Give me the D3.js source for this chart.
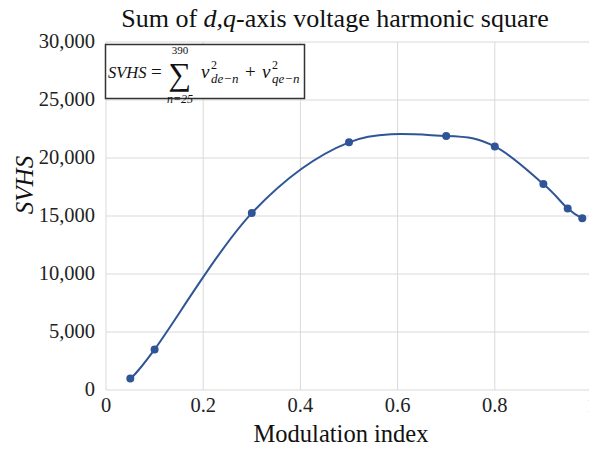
<!DOCTYPE html>
<html lang="en">
<head>
  <meta charset="UTF-8">
  <title>Sum of d,q-axis voltage harmonic square</title>
  <script src="https://d3js.org/d3.v7.min.js"></script>
  <style>
    body { margin: 0; padding: 0; background: #fff; }
    svg { display: block; }
    svg text { font-family: "Liberation Serif", "Times New Roman", "DejaVu Serif", serif; }
    .grid line { stroke: #d9d9d9; stroke-width: 1; }
    .tick-label { font-size: 20.5px; fill: #222; }
  </style>
</head>
<body>
  <div id="chart"></div>

  <script>
    // data
    const modIndex = [0.05, 0.1, 0.3, 0.5, 0.7, 0.8, 0.9, 0.95, 0.98];
    const svhs = [1000, 3500, 15250, 21350, 21900, 21000, 17750, 15650, 14800];
    const xTicks = [0, 0.2, 0.4, 0.6, 0.8, 1];
    const yTicks = [0, 5000, 10000, 15000, 20000, 25000, 30000];

    const width = 589, height = 452;
    const plotLeft = 106, plotRight = 592, plotTop = 42, plotBottom = 390;

    const svg = d3.select("#chart").append("svg")
      .attr("width", width)
      .attr("height", height)
      .attr("font-family", "Liberation Serif");

    const x = d3.scaleLinear().domain([0, 1]).range([plotLeft, plotRight]);
    const y = d3.scaleLinear().domain([0, 30000]).range([plotBottom, plotTop]);

    // gridlines
    const grid = svg.append("g").attr("class", "grid");
    grid.selectAll(".h").data(yTicks).enter().append("line")
      .attr("x1", plotLeft).attr("x2", plotRight)
      .attr("y1", d => y(d)).attr("y2", d => y(d));
    grid.selectAll(".v").data(xTicks).enter().append("line")
      .attr("x1", d => x(d)).attr("x2", d => x(d))
      .attr("y1", plotTop).attr("y2", plotBottom);

    // tick labels
    const fmt = d3.format(",");
    svg.selectAll(".ylab").data(yTicks).enter().append("text")
      .attr("class", "tick-label")
      .attr("x", plotLeft - 11)
      .attr("y", d => y(d) + 5.5)
      .attr("text-anchor", "end")
      .text(d => fmt(d));
    svg.selectAll(".xlab").data(xTicks).enter().append("text")
      .attr("class", "tick-label")
      .attr("x", d => x(d))
      .attr("y", plotBottom + 22)
      .attr("text-anchor", "middle")
      .text(d => d === 0 || d === 1 ? d : d.toFixed(1));

    // the curve
    const pts = modIndex.map((m, i) => [m, svhs[i]]);
    const line = d3.line()
      .x(d => x(d[0]))
      .y(d => y(d[1]))
      .curve(d3.curveCardinal.tension(0));

    svg.append("path")
      .datum(pts)
      .attr("d", line)
      .attr("fill", "none")
      .attr("stroke", "#2F5597")
      .attr("stroke-width", 2);

    svg.selectAll(".dot").data(pts).enter().append("circle")
      .attr("cx", d => x(d[0]))
      .attr("cy", d => y(d[1]))
      .attr("r", 4)
      .attr("fill", "#2F5597");

    // formula box
    svg.append("rect")
      .attr("x", 105.5).attr("y", 44.5)
      .attr("width", 199).attr("height", 54)
      .attr("fill", "#fff")
      .attr("stroke", "#333")
      .attr("stroke-width", 1.5);

    const f = svg.append("g").attr("fill", "#111");
    f.append("text").attr("x", 108).attr("y", 78).attr("font-size", 16.5)
      .attr("font-style", "italic").text("SVHS");
    f.append("text").attr("x", 151).attr("y", 78).attr("font-size", 19).text("=");
    f.append("text").attr("x", 180).attr("y", 85).attr("font-size", 32)
      .attr("text-anchor", "middle").text("\u2211");
    f.append("text").attr("x", 180).attr("y", 54).attr("font-size", 11)
      .attr("text-anchor", "middle").text("390");
    f.append("text").attr("x", 180).attr("y", 103).attr("font-size", 12)
      .attr("text-anchor", "middle").attr("font-style", "italic").text("n=25");

    const term = (x0, sub) => {
      f.append("text").attr("x", x0).attr("y", 78).attr("font-size", 19)
        .attr("font-style", "italic").text("v");
      f.append("text").attr("x", x0 + 10).attr("y", 69).attr("font-size", 12).text("2");
      f.append("text").attr("x", x0 + 10).attr("y", 83).attr("font-size", 13)
        .attr("font-style", "italic").text(sub);
    };
    term(201, "de\u2212n");
    f.append("text").attr("x", 245).attr("y", 78).attr("font-size", 19).text("+");
    term(262, "qe\u2212n");

    // title
    const title = svg.append("text")
      .attr("x", 335).attr("y", 27)
      .attr("text-anchor", "middle")
      .attr("font-size", 26)
      .attr("fill", "#111");
    title.append("tspan").text("Sum of ");
    title.append("tspan").attr("font-style", "italic").text("d,q");
    title.append("tspan").text("-axis voltage harmonic square");

    // axis titles
    svg.append("text")
      .attr("x", 341).attr("y", 442)
      .attr("text-anchor", "middle")
      .attr("font-size", 24.5)
      .attr("fill", "#111")
      .text("Modulation index");

    svg.append("text")
      .attr("transform", "translate(33,185) rotate(-90)")
      .attr("text-anchor", "middle")
      .attr("font-size", 25)
      .attr("font-style", "italic")
      .attr("fill", "#111")
      .text("SVHS");
  </script>
</body>
</html>
